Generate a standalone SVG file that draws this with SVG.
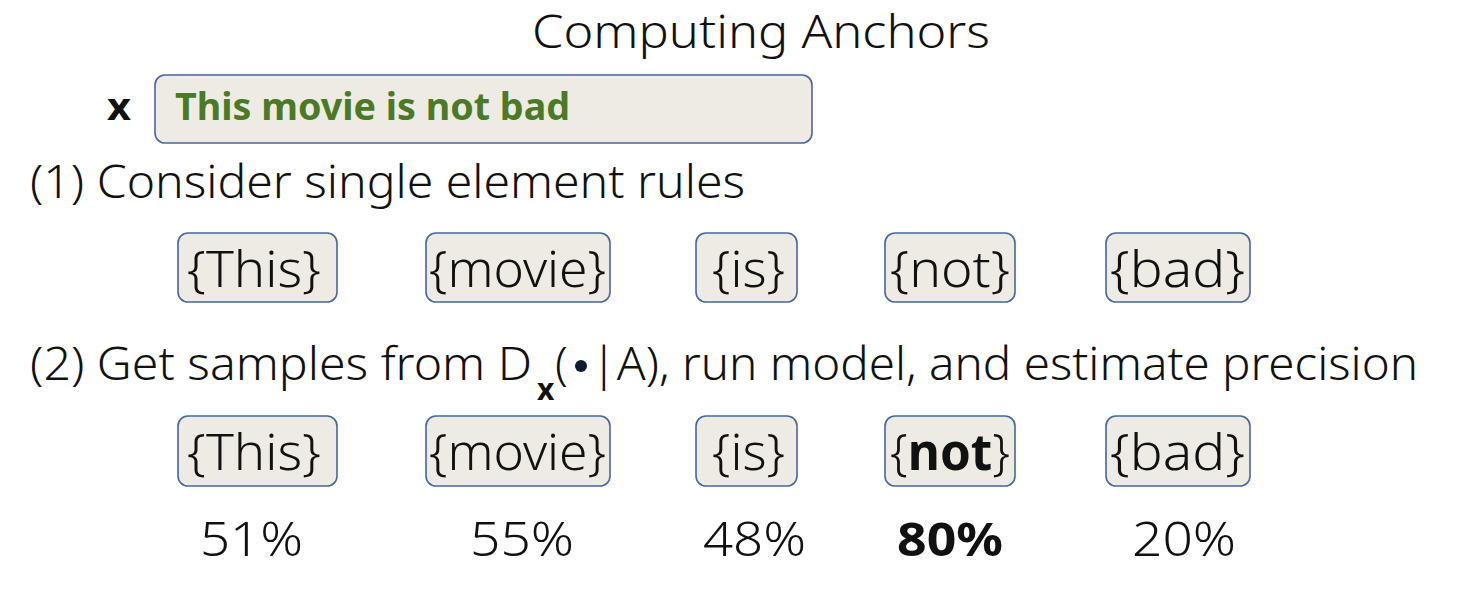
<svg xmlns="http://www.w3.org/2000/svg" width="1468" height="602" viewBox="0 0 1468 602">
<style>
.t{font-family:"Noto Sans",Lato,"Open Sans",sans-serif;fill:#111;}
.box{fill:#eeebe4;stroke:#46669e;stroke-width:1.6;}
.lbl{font-family:"Noto Sans",Lato,"Open Sans",sans-serif;font-size:50px;fill:#111;font-weight:300;}
.pct{font-family:"Noto Sans",Lato,"Open Sans",sans-serif;font-size:47px;fill:#111;font-weight:300;}
.pct.b{font-weight:bold;}
</style>
<rect width="1468" height="602" fill="#fff"/>
<text class="t" x="532" y="48" font-size="45" font-weight="300" textLength="458" lengthAdjust="spacingAndGlyphs">Computing Anchors</text>
<g id="input">
<text class="t" x="107" y="120" font-size="38" font-weight="bold" textLength="24" lengthAdjust="spacingAndGlyphs">x</text>
<rect class="box" x="155" y="75" width="657" height="68" rx="10"/>
<text x="175" y="120" font-family="'Noto Sans',Lato,'Open Sans',sans-serif" font-size="37" font-weight="bold" fill="#4a7a26" textLength="395" lengthAdjust="spacingAndGlyphs">This movie is not bad</text>
</g>
<text class="t" x="30" y="198" font-size="46" font-weight="300" textLength="715" lengthAdjust="spacingAndGlyphs">(1) Consider single element rules</text>
<g id="r1-this"><rect class="box" x="178" y="233" width="159" height="69" rx="10"/><text class="lbl" x="187" y="287" textLength="134" lengthAdjust="spacingAndGlyphs">{This}</text></g>
<g id="r1-movie"><rect class="box" x="426" y="233" width="184" height="69" rx="10"/><text class="lbl" x="429" y="287" textLength="177" lengthAdjust="spacingAndGlyphs">{movie}</text></g>
<g id="r1-is"><rect class="box" x="696" y="233" width="101" height="69" rx="10"/><text class="lbl" x="712" y="287" textLength="73" lengthAdjust="spacingAndGlyphs">{is}</text></g>
<g id="r1-not"><rect class="box" x="885" y="233" width="130" height="69" rx="10"/><text class="lbl" x="890" y="287" textLength="120" lengthAdjust="spacingAndGlyphs">{not}</text></g>
<g id="r1-bad"><rect class="box" x="1106" y="233" width="144" height="69" rx="10"/><text class="lbl" x="1110" y="287" textLength="135" lengthAdjust="spacingAndGlyphs">{bad}</text></g>
<g id="line2">
<text class="t" x="30" y="380" font-size="46" font-weight="300" textLength="502" lengthAdjust="spacingAndGlyphs">(2) Get samples from D</text>
<text class="t" x="537" y="400" font-size="30" font-weight="bold">x</text>
<text class="t" x="555" y="380" font-size="46" font-weight="300">(</text>
<circle cx="581" cy="366" r="6" fill="#0d1a33"/>
<text class="t" x="591" y="380" font-size="46" font-weight="300" textLength="827" lengthAdjust="spacingAndGlyphs">|A), run model, and estimate precision</text>
</g>
<g id="r2-this"><rect class="box" x="178" y="416" width="159" height="70" rx="10"/><text class="lbl" x="187" y="470" textLength="134" lengthAdjust="spacingAndGlyphs">{This}</text><text class="pct" x="200" y="556" textLength="103" lengthAdjust="spacingAndGlyphs">51%</text></g>
<g id="r2-movie"><rect class="box" x="426" y="416" width="184" height="70" rx="10"/><text class="lbl" x="429" y="470" textLength="177" lengthAdjust="spacingAndGlyphs">{movie}</text><text class="pct" x="470" y="556" textLength="104" lengthAdjust="spacingAndGlyphs">55%</text></g>
<g id="r2-is"><rect class="box" x="696" y="416" width="101" height="70" rx="10"/><text class="lbl" x="712" y="470" textLength="73" lengthAdjust="spacingAndGlyphs">{is}</text><text class="pct" x="703" y="556" textLength="103" lengthAdjust="spacingAndGlyphs">48%</text></g>
<g id="r2-not"><rect class="box" x="885" y="416" width="130" height="70" rx="10"/><text class="lbl" x="890" y="470" textLength="120" lengthAdjust="spacingAndGlyphs">{<tspan font-weight="bold">not</tspan>}</text><text class="pct b" x="897" y="556" textLength="106" lengthAdjust="spacingAndGlyphs">80%</text></g>
<g id="r2-bad"><rect class="box" x="1106" y="416" width="144" height="70" rx="10"/><text class="lbl" x="1110" y="470" textLength="135" lengthAdjust="spacingAndGlyphs">{bad}</text><text class="pct" x="1132" y="556" textLength="104" lengthAdjust="spacingAndGlyphs">20%</text></g>
<g id="connectors"></g>
</svg>
